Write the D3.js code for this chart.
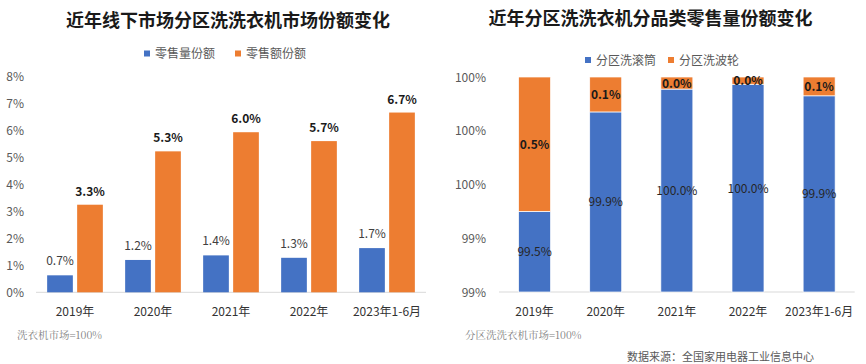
<!DOCTYPE html>
<html><head><meta charset="utf-8">
<script src="https://cdn.jsdelivr.net/npm/d3@7"></script>
<style>body{margin:0;background:#fff;} svg{display:block;font-family:"Noto Sans CJK SC","Noto Sans",sans-serif;}</style>
</head><body><svg id="c" width="866" height="364"></svg>
<script>
// Left chart data
const catsL = ["2019年","2020年","2021年","2022年","2023年1-6月"];
const volShare = [0.63, 1.2, 1.37, 1.28, 1.64];
const volLabels = ["0.7%","1.2%","1.4%","1.3%","1.7%"];
const valShare = [3.25, 5.23, 5.94, 5.61, 6.67];
const valLabels = ["3.3%","5.3%","6.0%","5.7%","6.7%"];
const ticksL = [0,1,2,3,4,5,6,7,8];
// Right chart data
const catsR = ["2019年","2020年","2021年","2022年","2023年1-6月"];
const drumShare = [99.5, 99.87, 99.955, 99.973, 99.93];
const drumLabels = ["99.5%","99.9%","100.0%","100.0%","99.9%"];
const pulsShare = [0.5, 0.13, 0.045, 0.027, 0.07];
const pulsLabels = ["0.5%","0.1%","0.0%","0.0%","0.1%"];
const ticksR = [99.2, 99.4, 99.6, 99.8, 100];

const BLUE = "#4472C4", ORANGE = "#ED7D31";
const svg = d3.select("#c");

// ---------- Left chart ----------
{
  const g = svg.append("g");
  const x = d3.scaleBand().domain(catsL).range([36, 426]);
  const y = d3.scaleLinear().domain([0, 8]).range([292.3, 76.7]);
  g.append("text").attr("x", 228).attr("y", 27).attr("text-anchor","middle")
    .attr("font-size", 18).attr("font-weight","bold").attr("fill","#1a1a1a")
    .text("近年线下市场分区洗洗衣机市场份额变化");
  // legend
  const lg = [{t:"零售量份额",c:BLUE,x:144},{t:"零售额份额",c:ORANGE,x:235}];
  lg.forEach(d=>{
    g.append("rect").attr("x",d.x).attr("y",50.5).attr("width",6).attr("height",6).attr("fill",d.c);
    g.append("text").attr("x",d.x+11).attr("y",58).attr("font-size",12).attr("fill","#595959").text(d.t);
  });
  // y axis labels
  g.selectAll(".yt").data(ticksL).join("text")
    .attr("x", 24).attr("y", d=>y(d)+4.5).attr("text-anchor","end")
    .attr("font-size", 12).attr("fill","#595959").text(d=>d+"%");
  g.append("line").attr("x1",36).attr("x2",426).attr("y1",y(0)).attr("y2",y(0))
    .attr("stroke","#d9d9d9").attr("stroke-width",1);
  const bw = 25.7, gap = 4.3;
  catsL.forEach((c,i)=>{
    const cx = x(c) + x.bandwidth()/2;
    const bx = cx - gap/2 - bw, ox = cx + gap/2;
    g.append("rect").attr("x",bx).attr("y",y(volShare[i])).attr("width",bw)
      .attr("height",y(0)-y(volShare[i])).attr("fill",BLUE);
    g.append("rect").attr("x",ox).attr("y",y(valShare[i])).attr("width",bw)
      .attr("height",y(0)-y(valShare[i])).attr("fill",ORANGE);
    g.append("text").attr("x",bx+bw/2).attr("y",y(volShare[i])-10).attr("text-anchor","middle")
      .attr("font-size",12).attr("fill","#404040").text(volLabels[i]);
    g.append("text").attr("x",ox+bw/2).attr("y",y(valShare[i])-9).attr("text-anchor","middle")
      .attr("font-size",12).attr("font-weight","bold").attr("fill","#1a1a1a").text(valLabels[i]);
    g.append("text").attr("x",cx).attr("y",315.5).attr("text-anchor","middle")
      .attr("font-size",12).attr("fill","#333").text(c);
  });
  g.append("text").attr("x",17).attr("y",339).attr("font-size",10.5).attr("fill","#7f7f7f")
    .attr("font-family","'Noto Serif CJK SC','DejaVu Serif',serif").text("洗衣机市场=100%");
}

// ---------- Right chart ----------
{
  const g = svg.append("g");
  const x = d3.scaleBand().domain(catsR).range([499, 854.7]);
  const y = d3.scaleLinear().domain([99.2, 100]).range([292, 77]);
  g.append("text").attr("x", 650.5).attr("y", 25).attr("text-anchor","middle")
    .attr("font-size", 18).attr("font-weight","bold").attr("fill","#1a1a1a")
    .text("近年分区洗洗衣机分品类零售量份额变化");
  const lg = [{t:"分区洗滚筒",c:BLUE,x:585},{t:"分区洗波轮",c:ORANGE,x:668}];
  lg.forEach(d=>{
    g.append("rect").attr("x",d.x).attr("y",57).attr("width",6).attr("height",6).attr("fill",d.c);
    g.append("text").attr("x",d.x+11).attr("y",64.5).attr("font-size",12).attr("fill","#595959").text(d.t);
  });
  g.selectAll(".yt").data(ticksR).join("text")
    .attr("x", 486).attr("y", d=>y(d)+4.5).attr("text-anchor","end")
    .attr("font-size", 12).attr("fill","#595959").text(d=>d3.format(".0f")(d)+"%");
  g.append("line").attr("x1",499).attr("x2",854.7).attr("y1",y(99.2)).attr("y2",y(99.2))
    .attr("stroke","#d9d9d9").attr("stroke-width",1);
  const bw = 32;
  catsR.forEach((c,i)=>{
    const cx = x(c) + x.bandwidth()/2;
    const bx = cx - bw/2;
    const top1 = y(drumShare[i]);
    const top2 = y(drumShare[i] + pulsShare[i]);
    g.append("rect").attr("x",bx).attr("y",top1).attr("width",bw)
      .attr("height",y(99.2)-top1).attr("fill",BLUE).attr("stroke","#fff").attr("stroke-width",0.7);
    g.append("rect").attr("x",bx).attr("y",top2).attr("width",bw)
      .attr("height",top1-top2).attr("fill",ORANGE).attr("stroke","#fff").attr("stroke-width",0.7);
    g.append("text").attr("x",cx).attr("y",(top1+y(99.2))/2+4.5).attr("text-anchor","middle")
      .attr("font-size",12).attr("fill","#262626").text(drumLabels[i]);
    g.append("text").attr("x",cx).attr("y",(top1+top2)/2+4.5).attr("text-anchor","middle")
      .attr("font-size",12).attr("font-weight","bold").attr("fill","#1a1a1a").text(pulsLabels[i]);
    g.append("text").attr("x",cx).attr("y",315.5).attr("text-anchor","middle")
      .attr("font-size",12).attr("fill","#333").text(c);
  });
  g.append("text").attr("x",465).attr("y",339).attr("font-size",10.5).attr("fill","#7f7f7f")
    .attr("font-family","'Noto Serif CJK SC','DejaVu Serif',serif").text("分区洗洗衣机市场=100%");
  g.append("text").attr("x",627).attr("y",361).attr("font-size",11).attr("fill","#595959")
    .text("数据来源：全国家用电器工业信息中心");
}
</script></body></html>
